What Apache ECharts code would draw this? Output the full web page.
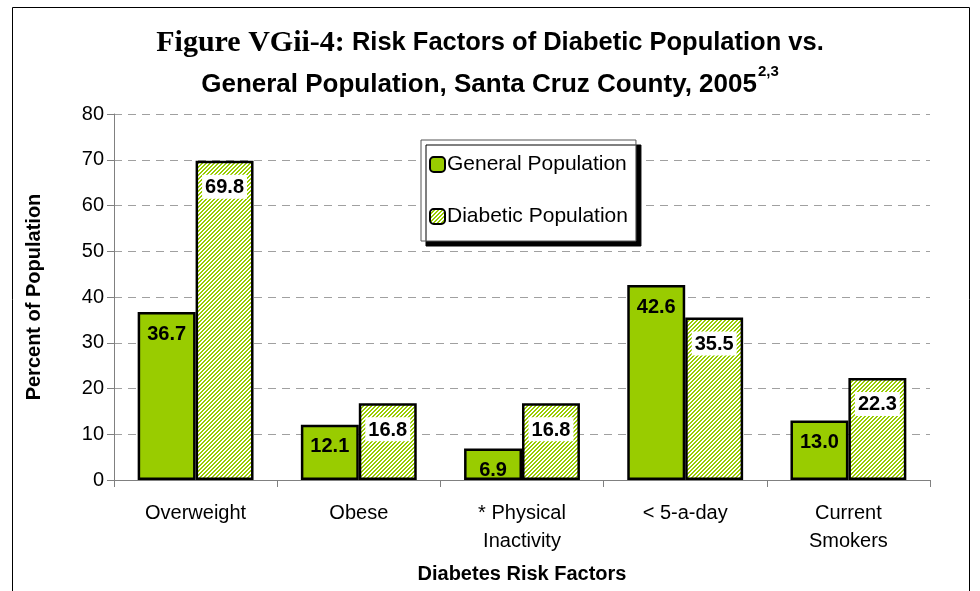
<!DOCTYPE html>
<html>
<head>
<meta charset="utf-8">
<script src="https://cdn.jsdelivr.net/npm/echarts@6/dist/echarts.min.js"></script>
<style>
html,body{margin:0;padding:0;background:#fff;}
#chart{width:980px;height:591px;}
</style>
</head>
<body>
<div id="chart"></div>
<script>
var categories = ['Overweight', 'Obese', '* Physical\nInactivity', '< 5-a-day', 'Current\nSmokers'];
var generalPopulation = [36.7, 12.1, 6.9, 42.6, 13.0];
var diabeticPopulation = [69.8, 16.8, 16.8, 35.5, 22.3];
var yTicks = [0, 10, 20, 30, 40, 50, 60, 70, 80];

// hatch pattern for diabetic bars
var pc = document.createElement('canvas');
pc.width = 4; pc.height = 4;
var ctx = pc.getContext('2d');
ctx.fillStyle = '#ffffff';
ctx.fillRect(0, 0, 4, 4);
ctx.fillStyle = '#99cc00';
for (var x = 0; x < 4; x++) {
  for (var y = 0; y < 4; y++) {
    if ((x + y) % 4 < 2) ctx.fillRect(x, y, 1, 1);
  }
}
var hatch = { image: pc, repeat: 'repeat' };

var chart = echarts.init(document.getElementById('chart'));
var font = 'Liberation Sans, Arial, sans-serif';
chart.setOption({
  animation: false,
  backgroundColor: '#fff',
  textStyle: { fontFamily: font },
  title: {
    left: 'center',
    top: 17,
    text: '{a|Figure VGii-4:}{b| Risk Factors of Diabetic Population vs.}\n{c|General Population, Santa Cruz County, 2005}{sup|2,3}',
    textStyle: {
      rich: {
        a: { fontFamily: 'Liberation Serif, serif', fontWeight: 'bold', fontSize: 30, color: '#000', lineHeight: 42 },
        b: { fontFamily: font, fontWeight: 'bold', fontSize: 25.5, color: '#000', lineHeight: 42 },
        c: { fontFamily: font, fontWeight: 'bold', fontSize: 26, color: '#000', lineHeight: 42 },
        sup: { fontFamily: font, fontWeight: 'bold', fontSize: 15, color: '#000', verticalAlign: 'top', padding: [0, 0, 14, 1] }
      }
    }
  },
  grid: { left: 114, right: 50, top: 114, bottom: 111, containLabel: false },
  legend: {
    orient: 'vertical',
    left: 421,
    top: 140,
    itemWidth: 15,
    itemHeight: 15,
    itemGap: 31,
    padding: [14, 8, 14, 8],
    backgroundColor: '#fff',
    borderColor: '#555',
    borderWidth: 1,
    shadowColor: '#000',
    shadowBlur: 0,
    shadowOffsetX: 5,
    shadowOffsetY: 5,
    textStyle: { fontSize: 21, color: '#000', fontFamily: font, padding: [0, 0, 0, -3] },
    data: ['General Population', 'Diabetic Population']
  },
  xAxis: {
    type: 'category',
    data: categories,
    name: 'Diabetes Risk Factors',
    nameLocation: 'middle',
    nameGap: 84,
    nameTextStyle: { fontSize: 20, fontWeight: 'bold', color: '#000' },
    axisLine: { lineStyle: { color: '#808080', width: 1 } },
    axisTick: { show: true, length: 7, lineStyle: { color: '#808080' } },
    axisLabel: { fontSize: 20, color: '#000', lineHeight: 28, margin: 19, interval: 0 }
  },
  yAxis: {
    type: 'value',
    min: 0,
    max: 80,
    interval: 10,
    name: 'Percent of Population',
    nameLocation: 'middle',
    nameGap: 70,
    nameTextStyle: { fontSize: 20, fontWeight: 'bold', color: '#000' },
    axisLine: { show: true, lineStyle: { color: '#808080', width: 1 } },
    axisTick: { show: true, length: 7, lineStyle: { color: '#808080' } },
    axisLabel: { fontSize: 20, color: '#000', margin: 10,
      formatter: function (v) { return yTicks.indexOf(v) >= 0 ? String(v) : ''; } },
    splitLine: { show: true, lineStyle: { color: '#a0a0a0', type: [8, 6], width: 1 } }
  },
  series: [
    {
      name: 'General Population',
      type: 'bar',
      data: generalPopulation,
      barGap: '0%',
      barCategoryGap: '29%',
      itemStyle: { color: '#99cc00', borderColor: '#000', borderWidth: 2.5 },
      label: {
        show: true, position: 'insideTop', distance: 12,
        fontSize: 20, fontWeight: 'bold', color: '#000',
        formatter: function (p) { return p.value.toFixed(1); }
      }
    },
    {
      name: 'Diabetic Population',
      type: 'bar',
      data: diabeticPopulation,
      itemStyle: { color: hatch, borderColor: '#000', borderWidth: 2.5 },
      label: {
        show: true, position: 'insideTop', distance: 14,
        fontSize: 20, fontWeight: 'bold', color: '#000',
        backgroundColor: '#fff', padding: [3, 3, 1, 3],
        formatter: function (p) { return p.value.toFixed(1); }
      }
    }
  ],
  graphic: [
    {
      type: 'rect',
      shape: { x: 12.5, y: 7.5, width: 957, height: 600 },
      style: { fill: null, stroke: '#000', lineWidth: 1 },
      silent: true
    }
  ]
});
</script>
</body>
</html>
